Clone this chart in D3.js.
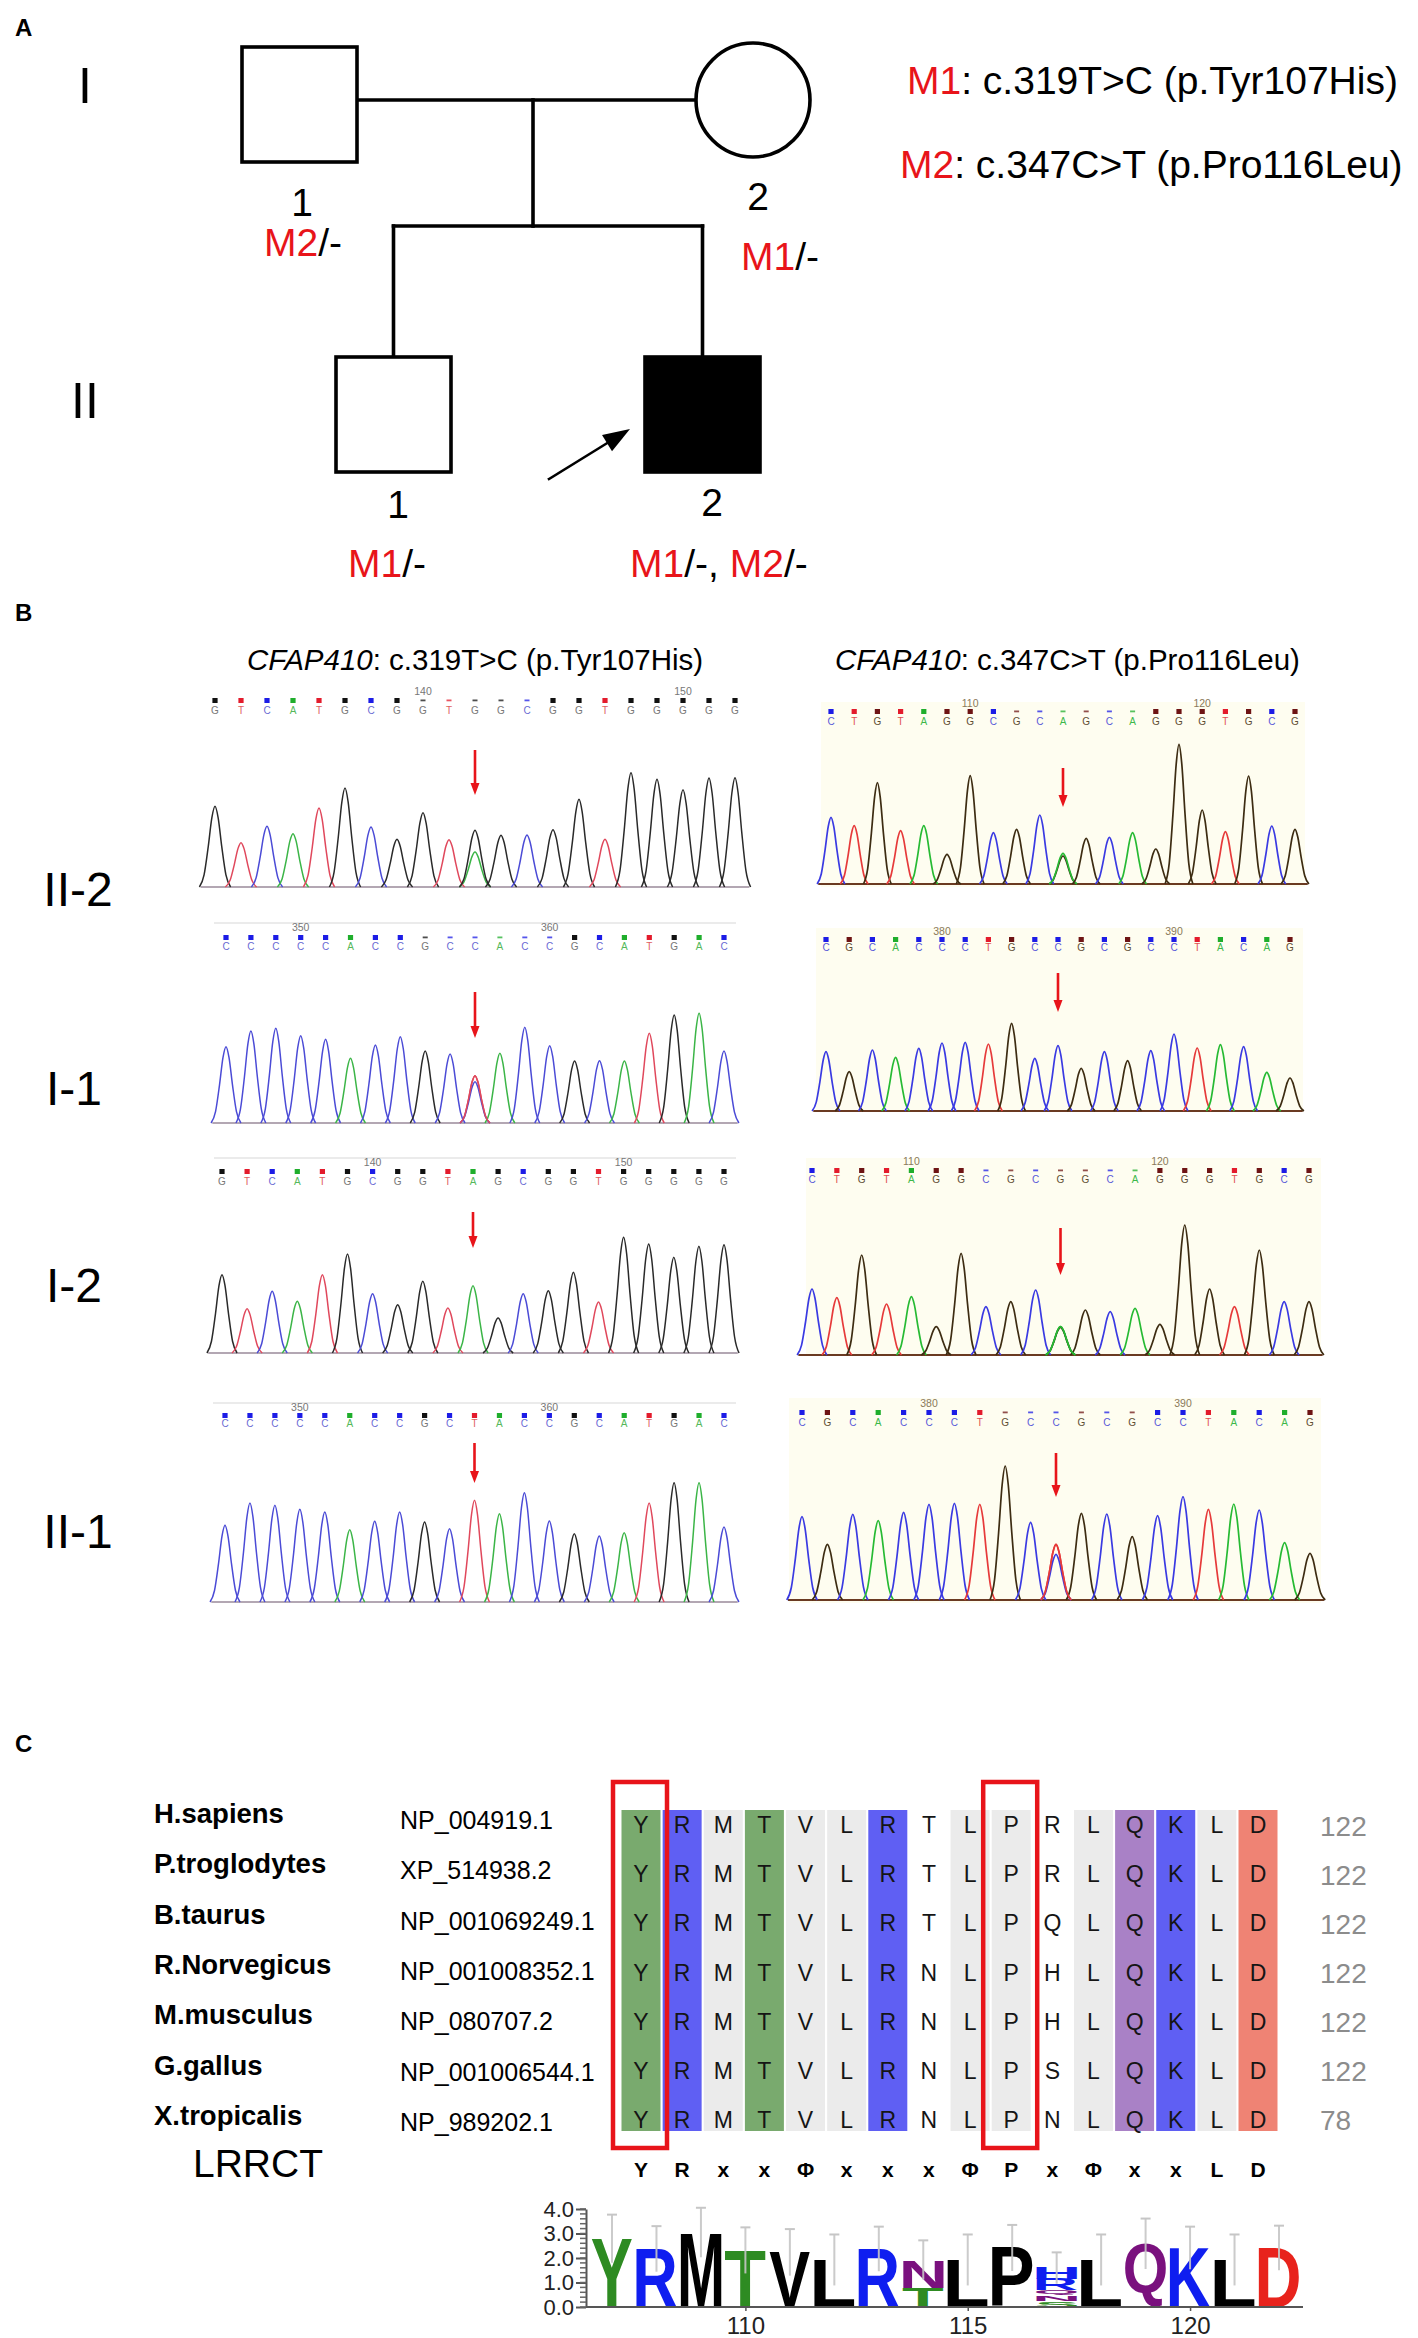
<!DOCTYPE html>
<html><head><meta charset="utf-8">
<script src="https://cdn.jsdelivr.net/npm/d3@7"></script>
<style>body{margin:0;background:#fff} svg{display:block}</style>
</head><body><svg id="c" width="1418" height="2338"></svg>
<script>
// ================= DATA =================
// Panel A: pedigree
const generationLabels = ['I', 'II'];
const individuals = ['I-1', 'I-2', 'II-1', 'II-2'];
const individualSex = ['M', 'F', 'M', 'M'];
const individualAffected = [false, false, false, true];
const individualNumbers = ['1', '2', '1', '2'];
const genotypes = [[['M2', '/-']], [['M1', '/-']], [['M1', '/-']], [['M1', '/-, '], ['M2', '/-']]];
const mutationKeys = ['M1', 'M2'];
const mutationTexts = [': c.319T>C (p.Tyr107His)', ': c.347C>T (p.Pro116Leu)'];

// Panel B: chromatograms (peak heights in signal units)
const chromTitles = ['c.319T>C (p.Tyr107His)', 'c.347C>T (p.Pro116Leu)'];
const sampleLabels = ['II-2', 'I-1', 'I-2', 'II-1'];

const seqII2a = 'GTCATGCGGTGGCGGTGGGGG';
const peaksII2a = [242,133,182,160,237,297,180,143,223,142,170,155,156,172,263,143,343,323,292,327,328];
const extraII2a = [[10,'A',105]];
const numsII2a = [[8,'140'],[18,'150']];
const lowII2a = [8,9,10,11,12];

const seqII2b = 'CTGTAGGCGCAGCAGGGTGCG';
const peaksII2b = [200,175,304,160,175,89,325,154,164,207,92,137,140,154,105,419,222,157,324,174,164];
const extraII2b = [[10,'G',84]];
const numsII2b = [[6,'110'],[16,'120']];
const lowII2b = [8,9,10,11,12,13];

const seqI1a = 'CCCCCACCGCCACCGCATGAC';
const peaksI1a = [229,276,284,262,251,194,234,259,216,207,124,209,287,232,186,187,186,269,324,329,216];
const extraI1a = [[10,'T',142]];
const numsI1a = [[3,'350'],[13,'360']];
const lowI1a = [8,9,10,11,12,13];

const seqI1b = 'CGCACCCTGCCGCGCCTACAG';
const peaksI1b = [178,118,183,161,188,204,206,201,263,158,196,128,178,151,181,231,189,199,193,116,99];
const extraI1b = [];
const numsI1b = [[5,'380'],[15,'390']];
const lowI1b = [];

const seqI2a = 'GTCATGCGGTAGCGGTGGGGG';
const peaksI2a = [235,133,185,155,235,297,178,145,215,135,202,105,178,187,242,153,347,327,287,320,325];
const extraI2a = [];
const numsI2a = [[6,'140'],[16,'150']];
const lowI2a = [];

const seqI2b = 'CTGTAGGCGCGGCAGGGTGCG';
const peaksI2b = [198,172,300,153,175,85,305,145,160,195,83,135,130,140,92,390,198,145,315,160,160];
const extraI2b = [[10,'A',85]];
const numsI2b = [[4,'110'],[14,'120']];
const lowI2b = [7,8,9,10,11,12,13];

const seqII1a = 'CCCCCACCGCTACCGCATGAC';
const peaksII1a = [230,297,290,278,270,217,242,270,240,220,305,265,328,243,205,198,208,297,358,358,225];
const extraII1a = [];
const numsII1a = [[3,'350'],[13,'360']];
const lowII1a = [];

const seqII1b = 'CGCACCCTGCCGCGCCTACAG';
const peaksII1b = [250,167,257,238,263,287,290,287,402,233,137,260,258,190,253,310,272,288,270,172,140];
const extraII1b = [[10,'T',167]];
const numsII1b = [[5,'380'],[15,'390']];
const lowII1b = [8,9,10,11,12,13];

// Panel C: alignment
const species = ['H.sapiens','P.troglodytes','B.taurus','R.Norvegicus','M.musculus','G.gallus','X.tropicalis'];
const accessions = ['NP_004919.1','XP_514938.2','NP_001069249.1','NP_001008352.1','NP_080707.2','NP_001006544.1','NP_989202.1'];
const sequences = ['YRMTVLRTLPRLQKLD','YRMTVLRTLPRLQKLD','YRMTVLRTLPQLQKLD','YRMTVLRNLPHLQKLD','YRMTVLRNLPHLQKLD','YRMTVLRNLPSLQKLD','YRMTVLRNLPNLQKLD'];
const endPositions = ['122','122','122','122','122','122','78'];
const consensus = ['Y','R','x','x','Φ','x','x','x','Φ','P','x','Φ','x','x','L','D'];
const columnShade = ['green','blue','gray','green','gray','gray','blue','none','gray','gray','none','gray','purple','blue','gray','salmon'];
const highlightColumns = [0, 9];

// Sequence logo
const logoPositions = [107,108,109,110,111,112,113,114,115,116,117,118,119,120,121,122];
const logoStacks = [
  [['Y',2.79]], [['R',2.37]], [['M',3.04]], [['T',2.31]], [['V',2.23]], [['L',1.92]], [['R',2.37]],
  [['T',0.79],['N',1.13]], [['L',1.92]], [['P',2.41]],
  [['S',0.23],['N',0.23],['Q',0.23],['R',0.45],['H',0.45]],
  [['L',1.92]], [['Q',2.58]], [['K',2.41]], [['L',1.92]], [['D',2.41]]
];
const logoErrors = [0.98,0.93,1.01,0.94,0.95,1.04,0.91,0.80,1.04,0.94,0.64,1.04,1.03,0.87,1.04,0.91];
const logoYTicks = [0,1,2,3,4];
const logoXTicks = [110,115,120];

// ================= RENDER =================
const FONT = '"Liberation Sans", Arial, Helvetica, sans-serif';
const RED = '#e8141a';
const svg = d3.select('#c').attr('font-family', FONT);
svg.append('rect').attr('width',1418).attr('height',2338).attr('fill','#fff');

function panelLetter(t, x, y) {
  svg.append('text').attr('x', x).attr('y', y).attr('font-size', 24).attr('font-weight', 'bold').text(t);
}
panelLetter('A', 15, 36);
panelLetter('B', 15, 621);
panelLetter('C', 15, 1752);

// ---------- Panel A ----------
const gA = svg.append('g').attr('stroke-linecap','square');
const SQ = 115;
const pedPos = {'I-1':{x:242,y:47}, 'I-2':{cx:753,cy:100,r:57}, 'II-1':{x:336,y:357}, 'II-2':{x:645,y:357}};
const numPos = {'I-1':[302,216], 'I-2':[758,210], 'II-1':[398,518], 'II-2':[712,516]};
const genoPos = {'I-1':[264,256], 'I-2':[741,270], 'II-1':[348,577], 'II-2':[630,577]};
const genPos = [[85,103],[85,418]];
const lineW = 3.6;

generationLabels.forEach((g,i) => {
  gA.append('text').attr('x',genPos[i][0]).attr('y',genPos[i][1]).attr('text-anchor','middle')
    .attr('font-size',50).text(g);
});

const pedLines = [
  [357,100,696,100], [533,100,533,226], [393.5,226,702.5,226],
  [393.5,226,393.5,357], [702.5,226,702.5,357]
];
pedLines.forEach(l => gA.append('line').attr('x1',l[0]).attr('y1',l[1]).attr('x2',l[2]).attr('y2',l[3])
  .attr('stroke','#000').attr('stroke-width',lineW));

individuals.forEach((id,i) => {
  const p = pedPos[id];
  if (individualSex[i] === 'M') {
    gA.append('rect').attr('x',p.x).attr('y',p.y).attr('width',SQ).attr('height',SQ)
      .attr('fill', individualAffected[i] ? '#000' : '#fff').attr('stroke','#000').attr('stroke-width',lineW);
  } else {
    gA.append('circle').attr('cx',p.cx).attr('cy',p.cy).attr('r',p.r)
      .attr('fill', individualAffected[i] ? '#000' : '#fff').attr('stroke','#000').attr('stroke-width',lineW);
  }
  gA.append('text').attr('x',numPos[id][0]).attr('y',numPos[id][1]).attr('text-anchor','middle')
    .attr('font-size',39).text(individualNumbers[i]);
  const t = gA.append('text').attr('x',genoPos[id][0]).attr('y',genoPos[id][1]).attr('font-size',39);
  genotypes[i].forEach(([k,rest]) => {
    t.append('tspan').attr('fill',RED).text(k);
    t.append('tspan').attr('fill','#000').text(rest);
  });
});

// proband arrow
{
  const s = [549,479], tip = [630,429];
  const dx = tip[0]-s[0], dy = tip[1]-s[1], L = Math.hypot(dx,dy);
  const ux = dx/L, uy = dy/L, nx = -uy, ny = ux;
  const hl = 27, hw = 9.5;
  const bx = tip[0]-hl*ux, by = tip[1]-hl*uy;
  gA.append('line').attr('x1',s[0]).attr('y1',s[1]).attr('x2',bx).attr('y2',by).attr('stroke','#000').attr('stroke-width',2.6);
  gA.append('path').attr('d',`M${tip[0]},${tip[1]}L${bx+hw*nx},${by+hw*ny}L${bx-hw*nx},${by-hw*ny}Z`).attr('fill','#000');
}

// legend
const legendPos = [[907,94],[900,178]];
mutationKeys.forEach((k,i) => {
  const t = svg.append('text').attr('x',legendPos[i][0]).attr('y',legendPos[i][1]).attr('font-size',39);
  t.append('tspan').attr('fill',RED).text(k);
  t.append('tspan').attr('fill','#000').text(mutationTexts[i]);
});

// ---------- Panel B ----------
const titlePos = [[247,670],[835,670]];
chromTitles.forEach((s,i) => {
  const t = svg.append('text').attr('x',titlePos[i][0]).attr('y',titlePos[i][1]).attr('font-size',29.5);
  t.append('tspan').attr('font-style','italic').text('CFAP410');
  t.append('tspan').text(': ' + s);
});

const labelPos = [[78,906],[74,1105],[74,1302],[78,1548]];
sampleLabels.forEach((s,i) => svg.append('text').attr('x',labelPos[i][0]).attr('y',labelPos[i][1])
  .attr('text-anchor','middle').attr('font-size',48).text(s));

const colors = {
  L: {trace:{G:'#2a2a2a',A:'#3bb547',C:'#4b4bd6',T:'#e0485c'}, sq:{G:'#111',A:'#1fae2c',C:'#1c1ce6',T:'#e31b2c'},
      letter:{G:'#777',A:'#55b85a',C:'#6a6ad4',T:'#e06060'}, base:'#9a8a9a'},
  R: {trace:{G:'#3d2c12',A:'#26ba33',C:'#3a3ae2',T:'#e63a3a'}, sq:{G:'#6e1414',A:'#1fae2c',C:'#1c1ce6',T:'#e31b2c'},
      letter:{G:'#5e4e34',A:'#3cb84a',C:'#5858d8',T:'#e05050'}, base:'#6a3a22'}
};

const traces = [
  {seq:seqII2a, peaks:peaksII2a, extra:extraII2a, nums:numsII2a, low:lowII2a,
   lay:{x0:215,x1:735,num:695,sq:698,let:714,base:887,arrow:[750,795],side:'L'}},
  {seq:seqII2b, peaks:peaksII2b, extra:extraII2b, nums:numsII2b, low:lowII2b,
   lay:{x0:831,x1:1295,num:707,sq:709,let:725,base:884,arrow:[768,807],side:'R',bg:[821,702,1305,887]}},
  {seq:seqI1a, peaks:peaksI1a, extra:extraI1a, nums:numsI1a, low:lowI1a,
   lay:{x0:226,x1:724,num:931,sq:935,let:950,base:1123,arrow:[992,1038],side:'L',line:[214,923,736]}},
  {seq:seqI1b, peaks:peaksI1b, extra:extraI1b, nums:numsI1b, low:lowI1b,
   lay:{x0:826,x1:1290,num:935,sq:937,let:951,base:1111,arrow:[973,1012],side:'R',bg:[816,928,1303,1112]}},
  {seq:seqI2a, peaks:peaksI2a, extra:extraI2a, nums:numsI2a, low:lowI2a,
   lay:{x0:222,x1:724,num:1166,sq:1169,let:1185,base:1353,arrow:[1212,1248],side:'L',line:[214,1158,736]}},
  {seq:seqI2b, peaks:peaksI2b, extra:extraI2b, nums:numsI2b, low:lowI2b,
   lay:{x0:812,x1:1309,num:1165,sq:1168,let:1183,base:1355,arrow:[1228,1275],side:'R',bg:[806,1158,1321,1356]}},
  {seq:seqII1a, peaks:peaksII1a, extra:extraII1a, nums:numsII1a, low:lowII1a,
   lay:{x0:225,x1:724,num:1411,sq:1413,let:1427,base:1602,arrow:[1443,1483],side:'L',line:[213,1403,736]}},
  {seq:seqII1b, peaks:peaksII1b, extra:extraII1b, nums:numsII1b, low:lowII1b,
   lay:{x0:802,x1:1310,num:1407,sq:1410,let:1426,base:1600,arrow:[1453,1497],side:'R',bg:[789,1398,1321,1603]}}
];

const peakProfile = [[-0.6,0],[-0.42,0.15],[-0.26,0.5],[-0.12,0.86],[0,1],[0.12,0.86],[0.26,0.5],[0.42,0.15],[0.6,0]];
const hScale = d3.scaleLinear().domain([0,300]).range([0,100]);

traces.forEach(tr => {
  const L = tr.lay, C = colors[L.side];
  const bases = tr.seq.split('');
  const xs = d3.scaleLinear().domain([0, bases.length-1]).range([L.x0, L.x1]);
  const sp = xs(1) - xs(0);
  const g = svg.append('g');
  if (L.bg) g.append('rect').attr('x',L.bg[0]).attr('y',L.bg[1]).attr('width',L.bg[2]-L.bg[0]).attr('height',L.bg[3]-L.bg[1]).attr('fill','#fefdf0');
  if (L.line) g.append('line').attr('x1',L.line[0]).attr('x2',L.line[2]).attr('y1',L.line[1]).attr('y2',L.line[1]).attr('stroke','#e4e4e4').attr('stroke-width',1.5);
  tr.nums.forEach(([i,s]) => g.append('text').attr('x',xs(i)).attr('y',L.num).attr('text-anchor','middle')
    .attr('font-size',10.5).attr('fill', L.side==='R' ? '#8a7a5a' : '#777').text(s));
  bases.forEach((b,i) => {
    const low = tr.low.includes(i);
    if (low) {
      g.append('rect').attr('x',xs(i)-2.5).attr('y',L.sq+1.5).attr('width',5).attr('height',1.8).attr('fill',C.sq[b]).attr('opacity',0.75);
    } else {
      g.append('rect').attr('x',xs(i)-2.6).attr('y',L.sq).attr('width',5.2).attr('height',5).attr('fill',C.sq[b]);
    }
    g.append('text').attr('x',xs(i)).attr('y',L.let).attr('text-anchor','middle').attr('font-size',10)
      .attr('fill',C.letter[b]).text(b);
  });
  g.append('line').attr('x1',xs(0)-0.55*sp).attr('x2',xs(bases.length-1)+0.55*sp).attr('y1',L.base).attr('y2',L.base)
    .attr('stroke',C.base).attr('stroke-width', L.side==='R' ? 2 : 1.3);
  const line = d3.line().curve(d3.curveMonotoneX);
  const drawPeak = (i, b, h) => {
    const pts = peakProfile.map(([dx,f]) => [xs(i+dx), L.base - hScale(h)*f]);
    g.append('path').attr('d', line(pts)).attr('fill','none').attr('stroke',C.trace[b])
      .attr('stroke-width', L.side==='R' ? 1.7 : 1.5).attr('stroke-linejoin','round');
  };
  tr.extra.forEach(([i,b,h]) => drawPeak(i,b,h));
  bases.forEach((b,i) => drawPeak(i,b,tr.peaks[i]));
  tr.extra.forEach(([i,b,h]) => { if (h > tr.peaks[i]) drawPeak(i,b,h); });
  const ax = xs(10), a0 = L.arrow[0], a1 = L.arrow[1];
  g.append('line').attr('x1',ax).attr('x2',ax).attr('y1',a0).attr('y2',a1-9).attr('stroke',RED).attr('stroke-width',2.6);
  g.append('path').attr('d',`M${ax-4.5},${a1-12}L${ax+4.5},${a1-12}L${ax},${a1}Z`).attr('fill',RED);
});

// ---------- Panel C ----------
const gC = svg.append('g');
const shadeColors = {green:'#79aa6e', blue:'#5f5ff3', gray:'#ebebeb', purple:'#a981c6', salmon:'#ef8374', none:'none'};
const colX = d3.scaleLinear().domain([0,15]).range([641,1258]);
const rowLetterY = d3.scaleLinear().domain([0,6]).range([1833,2128]);
const rowNameY = d3.scaleLinear().domain([0,6]).range([1823,2125]);
const rowAccY = d3.scaleLinear().domain([0,6]).range([1829,2131]);
const rowNumY = d3.scaleLinear().domain([0,6]).range([1836,2130]);

columnShade.forEach((s,i) => {
  if (s === 'none') return;
  gC.append('rect').attr('x',colX(i)-19.5).attr('y',1810).attr('width',39).attr('height',321).attr('fill',shadeColors[s]);
});
species.forEach((s,k) => {
  gC.append('text').attr('x',154).attr('y',rowNameY(k)).attr('font-size',27.5).attr('font-weight','bold').text(s);
  gC.append('text').attr('x',400).attr('y',rowAccY(k)).attr('font-size',25).text(accessions[k]);
  sequences[k].split('').forEach((ch,i) => gC.append('text').attr('x',colX(i)).attr('y',rowLetterY(k))
    .attr('text-anchor','middle').attr('font-size',23).attr('fill','#151515').text(ch));
  gC.append('text').attr('x',1320).attr('y',rowNumY(k)).attr('font-size',28).attr('fill','#8c8c8c').text(endPositions[k]);
});
consensus.forEach((ch,i) => gC.append('text').attr('x',colX(i)).attr('y',2177).attr('text-anchor','middle')
  .attr('font-size',21).attr('font-weight','bold').text(ch));
gC.append('text').attr('x',193).attr('y',2177).attr('font-size',39).text('LRRCT');
highlightColumns.forEach(i => gC.append('rect').attr('x',colX(i)-28).attr('y',1782).attr('width',54).attr('height',366)
  .attr('fill','none').attr('stroke',RED).attr('stroke-width',4.5));

// sequence logo
const logoColor = {Y:'#2e8b22',T:'#2e8b22',S:'#2e8b22',R:'#0f1ef0',K:'#0f1ef0',H:'#0f1ef0',
                   M:'#000',V:'#000',L:'#000',P:'#000',N:'#7a117e',Q:'#7a117e',D:'#e8231c'};
const xLogo = d3.scaleLinear().domain([107,122]).range([612,1279]);
const yLogo = d3.scaleLinear().domain([0,4]).range([2307,2209]);
const gL = svg.append('g');
const ctx = document.createElement('canvas').getContext('2d');
ctx.font = 'bold 100px "Liberation Sans", Arial, sans-serif';
const letterW = 41;
logoStacks.forEach((stack,i) => {
  let cum = 0;
  const xl = xLogo(logoPositions[i]) - letterW/2;
  stack.forEach(([ch,v]) => {
    const yb = yLogo(cum), yt = yLogo(cum+v), H = yb - yt;
    const m = ctx.measureText(ch);
    const abl = m.actualBoundingBoxLeft, abr = m.actualBoundingBoxRight;
    const asc = m.actualBoundingBoxAscent, desc = m.actualBoundingBoxDescent;
    const sx = letterW/(abl+abr), sy = H/(asc+desc);
    gL.append('text').attr('font-size',100).attr('font-weight','bold').attr('fill',logoColor[ch])
      .attr('transform',`translate(${xl+abl*sx},${yb-desc*sy}) scale(${sx},${sy})`).text(ch);
    cum += v;
  });
});
logoStacks.forEach((stack,i) => {
  const tot = d3.sum(stack, d => d[1]);
  const x = xLogo(logoPositions[i]);
  gL.append('line').attr('x1',x).attr('x2',x).attr('y1',yLogo(tot-logoErrors[i])).attr('y2',yLogo(tot+logoErrors[i]))
    .attr('stroke','#c6c6c6').attr('stroke-width',2).attr('opacity',0.9);
  gL.append('line').attr('x1',x-5).attr('x2',x+5).attr('y1',yLogo(tot+logoErrors[i])).attr('y2',yLogo(tot+logoErrors[i]))
    .attr('stroke','#c6c6c6').attr('stroke-width',2);
});
const axX = 586;
const yAx = gL.append('g').attr('transform',`translate(${axX},0)`)
  .call(d3.axisLeft(yLogo).tickValues(logoYTicks).tickFormat(d3.format('.1f')).tickSize(10).tickSizeOuter(0));
yAx.selectAll('text').attr('font-size',22).attr('font-family',FONT).attr('fill','#222').attr('x',-12);
yAx.selectAll('line,path').attr('stroke','#555').attr('stroke-width',2);
const minor = d3.range(0,4.01,0.2);
gL.selectAll('.mn').data(minor).join('line').attr('x1',axX-6).attr('x2',axX).attr('y1',d=>yLogo(d)).attr('y2',d=>yLogo(d))
  .attr('stroke','#666').attr('stroke-width',1.5);
gL.append('line').attr('x1',axX).attr('x2',1303).attr('y1',yLogo(0)).attr('y2',yLogo(0)).attr('stroke','#555').attr('stroke-width',2);
const xAx = gL.append('g').attr('transform',`translate(0,${yLogo(0)})`)
  .call(d3.axisBottom(xLogo).tickValues(logoXTicks).tickFormat(d3.format('d')).tickSize(4).tickSizeOuter(0));
xAx.select('.domain').remove();
xAx.selectAll('line').attr('stroke','#555').attr('stroke-width',1.5);
xAx.selectAll('text').attr('font-size',24).attr('font-family',FONT).attr('fill','#222').attr('dy','0.85em');
</script></body></html>
